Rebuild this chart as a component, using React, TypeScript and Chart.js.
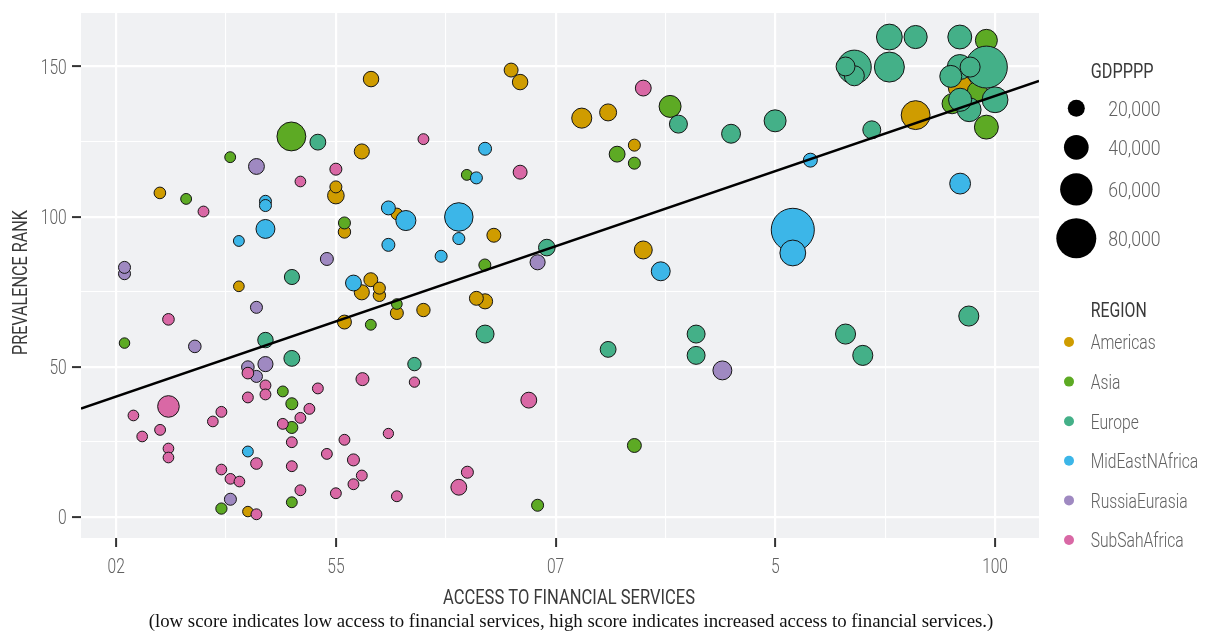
import React, { useEffect, useRef } from "react";
import { Chart, registerables } from "chart.js";

Chart.register(...registerables);

// ---------------- data ----------------
const REGIONS = ["Americas", "Asia", "Europe", "MidEastNAfrica", "RussiaEurasia", "SubSahAfrica"];
const REGION_COLORS = ["#CF9C00", "#5DAA24", "#44B088", "#3CB6E8", "#9F89C1", "#D968A5"];

// [access to financial services, prevalence rank, GDP PPP]
type P = [number, number, number];

const AMERICAS: P[] = [
  [23.98, 107.9, 6000], [31.17, 76.8, 3500], [40.0, 109.9, 7000], [40.0, 107.0, 19000],
  [42.36, 121.7, 15000], [43.2, 145.8, 16000], [40.78, 94.9, 8000], [45.55, 100.9, 6000],
  [43.18, 79.0, 12000], [42.36, 74.8, 15000], [43.96, 76.2, 7000], [43.96, 73.8, 8000],
  [45.55, 67.9, 9500], [47.97, 68.9, 10500], [40.78, 64.9, 12000], [31.99, 1.8, 3000],
  [54.38, 93.8, 12000], [52.79, 72.8, 12000], [53.58, 71.8, 15000], [55.95, 148.8, 12000],
  [56.77, 144.8, 16000], [62.38, 132.8, 28000], [64.78, 134.7, 20000], [67.17, 123.8, 7000],
  [67.98, 88.9, 22500], [92.77, 133.8, 51000], [96.82, 143.2, 38000],
];

const ASIA: P[] = [
  [20.76, 57.9, 3000], [26.37, 105.9, 4000], [30.38, 119.8, 4000], [35.95, 126.7, 51000],
  [40.78, 97.9, 7000], [45.55, 70.9, 3500], [43.18, 64.0, 4000], [35.17, 41.8, 4000],
  [35.99, 37.7, 7000], [35.99, 29.8, 7000], [35.99, 4.9, 4000], [29.58, 2.8, 5000],
  [51.92, 113.9, 4000], [53.56, 83.9, 7000], [65.6, 120.8, 17000], [67.17, 117.8, 7000],
  [70.42, 136.7, 33000], [67.17, 23.8, 12000], [58.36, 3.9, 7000], [99.21, 158.7, 33000],
  [98.39, 141.7, 28000], [96.09, 137.6, 28000], [99.21, 129.8, 38000],
];

const EUROPE: P[] = [
  [38.36, 124.8, 17000], [36.0, 79.9, 15000], [33.59, 58.9, 16000], [35.99, 52.8, 17000],
  [47.15, 50.9, 10500], [53.58, 60.9, 22500], [59.2, 89.7, 19000], [64.78, 55.8, 17000],
  [71.18, 130.8, 22500], [75.97, 127.6, 25000], [79.98, 131.9, 33000], [72.79, 60.9, 22500],
  [72.79, 53.8, 22500], [86.39, 60.9, 28000], [87.96, 53.8, 28000], [97.61, 66.9, 28000],
  [88.78, 128.9, 22500], [87.19, 149.8, 64000], [86.39, 150.0, 25000], [87.19, 146.9, 28000],
  [90.38, 149.8, 54000], [90.38, 159.8, 43000], [92.77, 159.8, 36000], [96.79, 159.8, 38000],
  [99.21, 149.8, 85000], [96.79, 149.8, 41000], [97.73, 149.8, 28000], [95.97, 146.7, 33000],
  [96.82, 138.9, 36000], [97.64, 135.6, 38000], [100.0, 138.9, 43000],
];

const MIDEAST: P[] = [
  [33.59, 105.1, 7000], [33.59, 103.7, 7000], [33.59, 95.9, 25000], [31.17, 91.9, 4000],
  [31.99, 21.8, 4000], [44.78, 102.9, 12000], [46.37, 98.7, 28000], [44.78, 90.6, 9500],
  [41.6, 77.9, 17000], [49.58, 86.8, 7000], [51.19, 99.9, 50000], [51.19, 92.7, 7000],
  [52.79, 112.9, 7000], [53.58, 122.6, 9500], [69.57, 81.8, 25000], [81.59, 95.6, 88000],
  [81.59, 87.9, 43000], [83.19, 118.8, 12000], [96.82, 111.0, 30000],
];

const RUSSIA: P[] = [
  [20.76, 81.0, 7000], [20.76, 83.1, 7000], [32.77, 116.7, 17000], [39.18, 85.9, 9500],
  [27.16, 56.8, 8500], [32.77, 69.8, 7000], [31.99, 49.9, 8500], [33.59, 50.9, 15000],
  [32.77, 46.8, 7000], [30.4, 5.9, 7000], [58.36, 84.8, 15000], [75.18, 48.8, 25000],
];

const SUBSAH: P[] = [
  [27.95, 101.7, 4000], [36.77, 111.7, 3500], [40.0, 115.8, 7000], [47.97, 125.8, 4000],
  [56.77, 114.8, 12000], [67.98, 142.8, 17000], [24.76, 65.8, 6000], [31.99, 47.9, 6000],
  [33.59, 43.8, 4000], [33.59, 40.8, 4000], [31.99, 39.8, 4000], [38.36, 42.8, 4000],
  [37.59, 36.0, 4000], [36.77, 33.0, 4000], [35.17, 31.0, 4000], [35.99, 24.9, 4000],
  [35.99, 16.9, 4000], [36.77, 8.9, 4000], [39.18, 21.0, 4000], [40.0, 7.9, 4000],
  [24.76, 36.8, 32000], [21.57, 33.8, 3500], [22.37, 26.8, 3500], [24.0, 29.0, 4000],
  [24.76, 22.8, 3500], [24.76, 19.8, 3500], [29.58, 35.0, 4000], [28.8, 31.8, 3500],
  [29.58, 15.8, 3500], [30.4, 12.7, 3500], [31.22, 11.8, 3500], [32.77, 0.9, 4000],
  [32.77, 17.8, 6000], [40.78, 25.7, 4000], [41.6, 19.0, 7000], [42.36, 13.8, 4000],
  [41.6, 10.9, 4000], [42.42, 45.9, 9500], [44.78, 27.8, 2500], [45.55, 6.9, 4000],
  [47.15, 44.9, 2500], [51.97, 14.9, 7000], [51.19, 9.9, 17000], [57.56, 38.9, 17000],
];

const REGION_POINTS = [AMERICAS, ASIA, EUROPE, MIDEAST, RUSSIA, SUBSAH];

const SIZE_BREAKS = [20000, 40000, 60000, 80000];
const SIZE_LABELS = ["20,000", "40,000", "60,000", "80,000"];

const X_GRID = [20, 30, 40, 50, 60, 70, 80, 90, 100];
const X_TICKS = [20, 40, 60, 80, 100];
const X_TICK_LABELS = ["02", "55", "07", "5", "100"];
const Y_GRID = [0, 25, 50, 75, 100, 125, 150];
const Y_TICKS = [0, 50, 100, 150];
const Y_TICK_LABELS = ["0", "50", "100", "150"];

const TREND_X = [16.8, 104];
const TREND_Y = [36.1, 145.2];

const X_TITLE = "ACCESS TO FINANCIAL SERVICES";
const Y_TITLE = "PREVALENCE RANK";
const CAPTION =
  "(low score indicates low access to financial services, high score indicates increased access to financial services.)";
const SIZE_TITLE = "GDPPPP";
const COLOR_TITLE = "REGION";

// ---------------- styling helpers ----------------
const PANEL = "#F0F1F3";
const INK = "#616161";
const TITLE_INK = "#3a3a3a";
const radiusFor = (g: number) => 4.67 + g * 0.0001917;

function put(
  ctx: CanvasRenderingContext2D,
  s: string,
  x: number,
  y: number,
  font: string,
  color: string,
  align: CanvasTextAlign,
  sx: number,
  rot = 0
) {
  ctx.save();
  ctx.translate(x, y);
  if (rot) ctx.rotate(rot);
  ctx.scale(sx, 1);
  ctx.font = font;
  ctx.fillStyle = color;
  ctx.textAlign = align;
  ctx.textBaseline = "alphabetic";
  ctx.fillText(s, 0, 0);
  ctx.restore();
}

function fit(ctx: CanvasRenderingContext2D, s: string, font: string, w: number) {
  ctx.save();
  ctx.font = font;
  const m = ctx.measureText(s).width;
  ctx.restore();
  return m > 0 ? w / m : 1;
}

function dot(ctx: CanvasRenderingContext2D, x: number, y: number, r: number, color: string) {
  ctx.save();
  ctx.beginPath();
  ctx.arc(x, y, r, 0, Math.PI * 2);
  ctx.fillStyle = color;
  ctx.fill();
  ctx.restore();
}

const SIZE_KEY_Y = [108.3, 147.3, 189.3, 238.3];
const REGION_KEY_Y0 = 342;
const REGION_KEY_STEP = 39.6;

const decor = {
  id: "decor",
  beforeDraw(chart: any) {
    const { ctx, chartArea: a } = chart;
    ctx.save();
    ctx.fillStyle = "#ffffff";
    ctx.fillRect(0, 0, chart.width, chart.height);
    ctx.fillStyle = PANEL;
    ctx.fillRect(a.left, a.top, a.right - a.left, a.bottom - a.top);
    ctx.restore();
  },
  afterDraw(chart: any) {
    const ctx: CanvasRenderingContext2D = chart.ctx;
    const xs = chart.scales.x;
    const ys = chart.scales.y;
    const tickFont = "300 21px Roboto";
    Y_TICKS.forEach((v, i) =>
      put(ctx, Y_TICK_LABELS[i], 66.7, ys.getPixelForValue(v) + 7.4, tickFont, INK, "right", 0.74)
    );
    X_TICKS.forEach((v, i) =>
      put(ctx, X_TICK_LABELS[i], xs.getPixelForValue(v), 572.5, tickFont, INK, "center", 0.74)
    );
    const tf = "400 20px Roboto";
    put(ctx, X_TITLE, 569, 603.5, tf, TITLE_INK, "center", fit(ctx, X_TITLE, tf, 252));
    put(ctx, Y_TITLE, 26.8, 282.5, tf, TITLE_INK, "center", fit(ctx, Y_TITLE, tf, 145), -Math.PI / 2);

    // caption in serif
    const base = '17px "Liberation Serif", serif';
    const k = fit(ctx, CAPTION, base, 845);
    put(ctx, CAPTION, 571, 627, `${(17 * k).toFixed(2)}px "Liberation Serif", serif`, "#111111", "center", 1);

    // size legend
    const lf = "400 21px Roboto";
    put(ctx, SIZE_TITLE, 1090.7, 78.2, lf, TITLE_INK, "left", fit(ctx, SIZE_TITLE, lf, 62.7));
    SIZE_BREAKS.forEach((g, i) => {
      const y = SIZE_KEY_Y[i];
      dot(ctx, 1076.3, y, radiusFor(g), "#000000");
      put(ctx, SIZE_LABELS[i], 1108.3, y + 7.4, tickFont, INK, "left", 0.84);
    });

    // colour legend
    put(ctx, COLOR_TITLE, 1090.7, 316.8, lf, TITLE_INK, "left", fit(ctx, COLOR_TITLE, lf, 56));
    REGIONS.forEach((r, i) => {
      const y = REGION_KEY_Y0 + i * REGION_KEY_STEP;
      dot(ctx, 1069, y, 5, REGION_COLORS[i]);
      put(ctx, r, 1090.7, y + 7.4, tickFont, INK, "left", 0.745);
    });
  },
};

export default function App() {
  const ref = useRef<HTMLCanvasElement>(null);

  useEffect(() => {
    const canvas = ref.current;
    if (!canvas) return;

    const datasets: any[] = [
      {
        type: "line",
        label: "trend",
        data: TREND_X.map((x, i) => ({ x, y: TREND_Y[i] })),
        borderColor: "#000000",
        borderWidth: 2.6,
        pointRadius: 0,
        fill: false,
        tension: 0,
        order: 0,
      },
    ];
    REGION_POINTS.forEach((pts, i) => {
      const sorted = [...pts].sort((a, b) => b[2] - a[2]);
      datasets.push({
        type: "bubble",
        label: REGIONS[i],
        data: sorted.map(([x, y, g]) => ({ x, y, r: radiusFor(g) })),
        backgroundColor: REGION_COLORS[i],
        borderColor: "#151515",
        borderWidth: 1,
        order: REGIONS.length - i,
      });
    });

    const isMajorX = (c: any) => X_TICKS.includes(c?.tick?.value);
    const isMajorY = (c: any) => Y_TICKS.includes(c?.tick?.value);

    const chart = new Chart(canvas, {
      type: "bubble",
      data: { datasets },
      options: {
        responsive: false,
        animation: false,
        devicePixelRatio: 1,
        events: [],
        layout: { autoPadding: false, padding: { left: 0, top: 13, right: 176, bottom: 0 } },
        plugins: {
          legend: { display: false },
          tooltip: { enabled: false },
          title: { display: false },
        },
        scales: {
          x: {
            type: "linear",
            min: 16.8,
            max: 104,
            afterBuildTicks: (s: any) => {
              s.ticks = X_GRID.map((v) => ({ value: v }));
            },
            afterFit: (s: any) => {
              s.height = 94;
            },
            ticks: { display: false },
            border: { display: false },
            grid: {
              color: "#ffffff",
              lineWidth: (c: any) => (isMajorX(c) ? 2.2 : 1.1),
              drawTicks: true,
              tickLength: 9,
              tickWidth: 2,
              tickColor: (c: any) => (isMajorX(c) ? "#333333" : "rgba(0,0,0,0)"),
            },
          },
          y: {
            type: "linear",
            min: -7,
            max: 167.8,
            afterBuildTicks: (s: any) => {
              s.ticks = Y_GRID.map((v) => ({ value: v }));
            },
            afterFit: (s: any) => {
              s.width = 81;
            },
            ticks: { display: false },
            border: { display: false },
            grid: {
              color: "#ffffff",
              lineWidth: (c: any) => (isMajorY(c) ? 2.2 : 1.1),
              drawTicks: true,
              tickLength: 9,
              tickWidth: 2,
              tickColor: (c: any) => (isMajorY(c) ? "#333333" : "rgba(0,0,0,0)"),
            },
          },
        },
      } as any,
      plugins: [decor],
    });

    return () => chart.destroy();
  }, []);

  return (
    <div style={{ position: "absolute", left: 0, top: 0, width: 1215, height: 632, background: "#fff" }}>
      <canvas ref={ref} width={1215} height={632} style={{ display: "block" }} />
    </div>
  );
}
